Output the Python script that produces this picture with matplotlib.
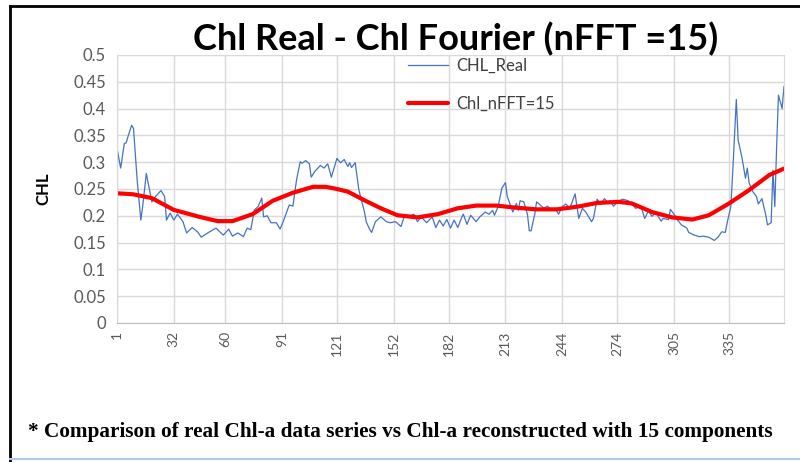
import numpy as np
import matplotlib.pyplot as plt
from matplotlib.lines import Line2D

# values (day of year -> CHL)
real_days = [1, 3, 5, 6, 7, 9, 10, 12, 14, 15, 17, 20, 22, 25, 27, 28, 30, 32, 34, 37,
             39, 42, 45, 47, 50, 55, 59, 62, 64, 67, 70, 72, 74, 76, 78, 80, 81, 83, 85, 88,
             90, 92, 95, 97, 99, 101, 102, 104, 106, 107, 109, 112, 114, 116, 118, 121, 123, 125, 127, 128,
             129, 131, 133, 136, 137, 139, 140, 142, 145, 148, 150, 153, 156, 158, 160, 163, 165, 167, 170, 173,
             175, 177, 179, 181, 183, 185, 187, 189, 190, 192, 194, 197, 199, 202, 204, 206, 207, 209, 211, 213,
             214, 216, 217, 219, 220, 221, 223, 225, 226, 227, 229, 230, 232, 234, 236, 238, 240, 242, 244, 246,
             248, 249, 251, 253, 255, 257, 260, 261, 263, 265, 267, 269, 270, 272, 275, 277, 280, 282, 284, 287,
             289, 291, 293, 295, 298, 299, 302, 303, 305, 307, 309, 312, 313, 316, 319, 321, 324, 327, 329, 331,
             333, 334, 336, 337, 339, 340, 342, 344, 345, 346, 348, 350, 351, 353, 354, 355, 356, 358, 359, 360,
             361, 362, 364, 365]
chl_real = [0.326, 0.289, 0.335, 0.336, 0.348, 0.369, 0.363, 0.267, 0.192, 0.217, 0.279, 0.226, 0.236, 0.247, 0.236, 0.192, 0.205, 0.192, 0.203, 0.189,
            0.168, 0.178, 0.170, 0.160, 0.167, 0.177, 0.164, 0.175, 0.162, 0.168, 0.161, 0.177, 0.174, 0.211, 0.217, 0.233, 0.198, 0.200, 0.187, 0.187,
            0.175, 0.192, 0.220, 0.218, 0.267, 0.301, 0.298, 0.303, 0.297, 0.272, 0.283, 0.294, 0.289, 0.297, 0.272, 0.307, 0.299, 0.305, 0.292, 0.299,
            0.290, 0.299, 0.248, 0.208, 0.189, 0.174, 0.169, 0.189, 0.198, 0.189, 0.187, 0.189, 0.180, 0.201, 0.198, 0.203, 0.189, 0.198, 0.187, 0.198,
            0.178, 0.192, 0.181, 0.193, 0.177, 0.192, 0.178, 0.196, 0.203, 0.184, 0.201, 0.189, 0.198, 0.207, 0.203, 0.210, 0.201, 0.217, 0.251, 0.262,
            0.236, 0.217, 0.207, 0.223, 0.210, 0.228, 0.226, 0.203, 0.172, 0.172, 0.203, 0.226, 0.220, 0.214, 0.218, 0.210, 0.214, 0.203, 0.217, 0.222,
            0.214, 0.222, 0.241, 0.195, 0.214, 0.206, 0.189, 0.195, 0.231, 0.222, 0.232, 0.224, 0.228, 0.218, 0.228, 0.231, 0.228, 0.223, 0.214, 0.217,
            0.195, 0.209, 0.199, 0.206, 0.190, 0.195, 0.193, 0.212, 0.203, 0.192, 0.183, 0.177, 0.169, 0.164, 0.161, 0.162, 0.160, 0.154, 0.160, 0.170,
            0.169, 0.187, 0.217, 0.279, 0.417, 0.341, 0.310, 0.270, 0.289, 0.261, 0.245, 0.236, 0.222, 0.232, 0.217, 0.203, 0.183, 0.187, 0.285, 0.217,
            0.329, 0.425, 0.400, 0.441]

fft_days = [1, 10, 20, 32, 46, 56, 64, 75, 86, 97, 108, 115, 121, 127, 136, 145, 154, 165, 176, 187,
            197, 208, 219, 230, 241, 248, 254, 263, 275, 282, 293, 304, 315, 324, 335, 346, 357, 365]
chl_fft = [0.242, 0.240, 0.233, 0.211, 0.198, 0.190, 0.190, 0.203, 0.228, 0.243, 0.254, 0.254, 0.250, 0.245, 0.229, 0.214, 0.201, 0.197, 0.203, 0.214,
           0.219, 0.219, 0.215, 0.212, 0.212, 0.215, 0.218, 0.224, 0.226, 0.223, 0.207, 0.197, 0.193, 0.201, 0.223, 0.248, 0.276, 0.288]

xticks = [1, 32, 60, 91, 121, 152, 182, 213, 244, 274, 305, 335]
yticks = np.arange(0, 0.51, 0.05)
ytick_labels = ["0", "0.05", "0.1", "0.15", "0.2", "0.25", "0.3", "0.35", "0.4", "0.45", "0.5"]

fig = plt.figure(figsize=(8, 4.62), dpi=100)
ax = fig.add_axes([0.14625, 0.3009, 0.8337, 0.5801])

ax.plot(real_days, chl_real, color="#4472C4", lw=0.9, label="CHL_Real")
ax.plot(fft_days, chl_fft, color="#FF0000", lw=3, label="Chl_nFFT=15",
        solid_joinstyle="round", solid_capstyle="round")

ax.set_xlim(1, 365)
ax.set_ylim(0, 0.5)
ax.set_xticks(xticks)
ax.set_xticklabels([str(t) for t in xticks], rotation=90, fontsize=10, color="#595959", family="Lato")
ax.set_yticks(yticks)
ax.set_yticklabels(ytick_labels, fontsize=12, color="#595959", family="Lato")
ax.tick_params(length=0, pad=8)
ax.tick_params(axis="x", pad=6)
ax.grid(True, color="#d9d9d9", lw=1)
ax.set_axisbelow(True)
for s in ["left", "right", "top"]:
    ax.spines[s].set_color("#d9d9d9")
ax.spines["bottom"].set_color("#bfbfbf")

ax.set_ylabel("CHL", fontsize=12, fontweight="bold", family="Lato", labelpad=16)

ax.legend(loc="upper left", bbox_to_anchor=(0.414, 1.045), frameon=False,
          handlelength=2.4, handletextpad=0.5, labelspacing=1.3,
          prop={"family": "Lato", "size": 12}, labelcolor="#404040")

fig.text(0.569, 0.915, "Chl Real - Chl Fourier (nFFT =15)", ha="center", va="center",
         fontsize=26, fontweight="bold", family="Lato")
fig.text(0.5, 0.065, "* Comparison of real Chl-a data series vs Chl-a reconstructed with 15 components",
         ha="center", va="center", fontsize=15.3, fontweight="bold", family="Liberation Serif")

# frame around the figure
fig.add_artist(Line2D([0.012, 0.012], [0.0, 0.987], color="black", lw=2))
fig.add_artist(Line2D([0.012, 1.0], [0.987, 0.987], color="black", lw=2))
fig.add_artist(Line2D([0.012, 1.0], [0.006, 0.006], color="#b4c7e7", lw=1.5))

fig.savefig("out.png", dpi=100)
